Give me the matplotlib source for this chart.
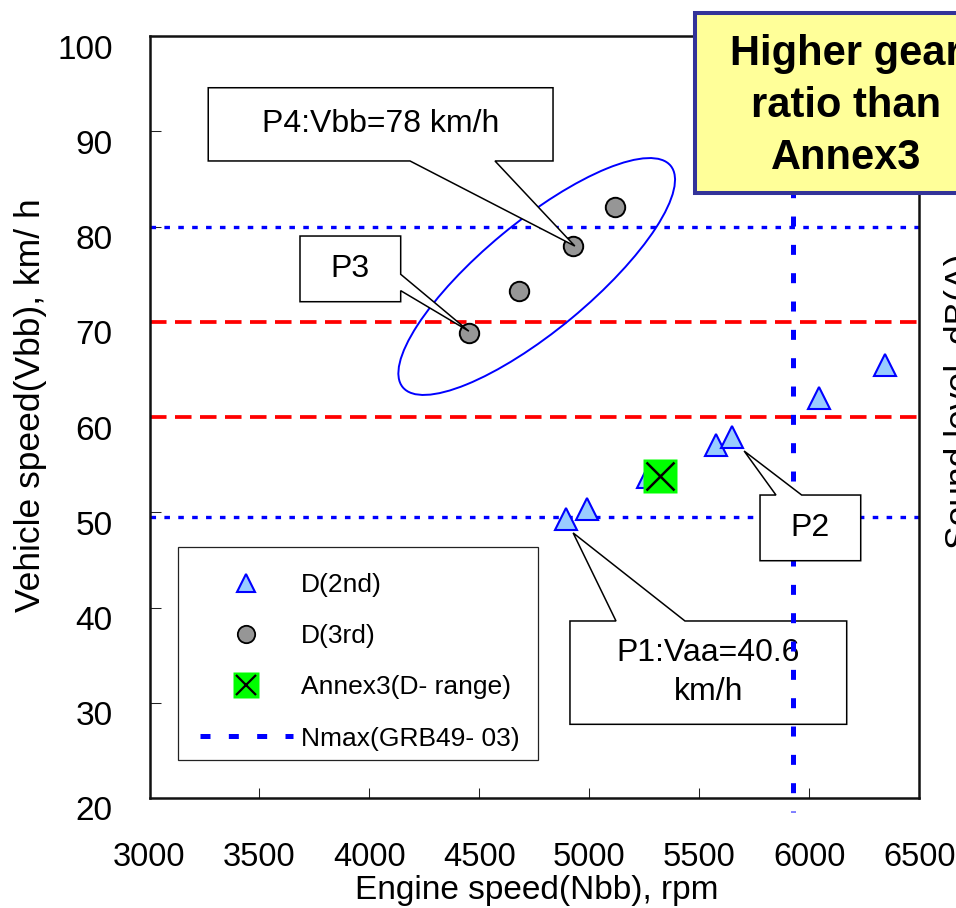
import matplotlib
matplotlib.use("Agg")
import matplotlib.pyplot as plt
from matplotlib.lines import Line2D
from matplotlib.patches import Polygon, Rectangle, Ellipse
from matplotlib.transforms import IdentityTransform, ScaledTranslation
from matplotlib.legend_handler import HandlerLine2D, HandlerTuple

plt.rcParams['font.family'] = ['Liberation Sans', 'DejaVu Sans']
plt.rcParams['lines.scale_dashes'] = False

# ---- data -------------------------------------------------------------
d2_rpm = [4892, 4988, 5267, 5577, 5649, 6044, 6344]
d2_speed = [49.3, 50.3, 53.7, 57.1, 57.9, 62.0, 65.5]

d3_rpm = [4452, 4681, 4927, 5116]
d3_speed = [68.8, 73.2, 78.0, 82.0]

annex3_rpm = [5323]
annex3_speed = [53.8]

nmax_rpm = 5927
red_limits = [60, 70]
blue_limits = [49.5, 80]

x_ticks = [3000, 3500, 4000, 4500, 5000, 5500, 6000, 6500]
y_ticks = [20, 30, 40, 50, 60, 70, 80, 90, 100]

legend_labels = ["D(2nd)", "D(3rd)", "Annex3(D- range)", "Nmax(GRB49- 03)"]

# ---- style ------------------------------------------------------------
W, H, DPI = 956, 908, 100
TRI_FILL, TRI_EDGE = '#99CCFF', '#0000FF'
CIRC_FILL = '#969696'
GREEN = '#00FF00'

fig = plt.figure(figsize=(W / DPI, H / DPI), dpi=DPI)
fig.patch.set_facecolor('white')
ax = fig.add_axes([149.5 / W, 110 / H, 769.8 / W, 762 / H])
ax.set_xlim(x_ticks[0], x_ticks[-1])
ax.set_ylim(y_ticks[0], y_ticks[-1])
ax.set_xticks(x_ticks)
ax.set_yticks(y_ticks)
ax.tick_params(axis='x', direction='in', length=7.2, width=0.75, pad=32,
               labelsize=23.5, top=False, colors='#222222', labelcolor='black')
ax.tick_params(axis='y', direction='in', length=8, width=0.75, pad=26.6,
               labelsize=24, right=False, colors='#222222', labelcolor='black')
for sp in ax.spines.values():
    sp.set_linewidth(1.8)
    sp.set_color('#111111')

# y tick labels sit a little below their ticks
drop = ScaledTranslation(0, -10.5 / DPI, fig.dpi_scale_trans)
for lab in ax.get_yticklabels():
    lab.set_transform(lab.get_transform() + drop)

# ---- reference lines --------------------------------------------------
for v in red_limits:
    ax.axhline(v, color='#FF0000', lw=2.7, dashes=(11.9, 6.1), zorder=2)
for v in blue_limits:
    ax.axhline(v, color='#0000FF', lw=2.4, dashes=(4.0, 6.0), zorder=2)
ax.axvline(nmax_rpm, ymin=-0.018, ymax=1.0, color='#0000FF', lw=3.6,
           linestyle=(6.5, (7.2, 13.2)), clip_on=False, zorder=3)

# ---- ellipse around 3rd-gear points -----------------------------------
ax.add_artist(Ellipse((536.7, H - 276.5), 347.6, 108.8, angle=39.6,
                      transform=IdentityTransform(), fill=False,
                      ec='#0000FF', lw=1.4, zorder=2.5, clip_on=False))

# ---- markers ----------------------------------------------------------
ax.plot(d2_rpm, d2_speed, ls='none', marker='^', ms=15.8, mfc=TRI_FILL,
        mec=TRI_EDGE, mew=1.5, zorder=4)
ax.plot(d3_rpm, d3_speed, ls='none', marker='o', ms=14, mfc=CIRC_FILL,
        mec='black', mew=1.4, zorder=4)
ax.plot(annex3_rpm, annex3_speed, ls='none', marker='s', ms=24.7,
        mfc=GREEN, mec='none', zorder=4.5)
ax.plot(annex3_rpm, annex3_speed, ls='none', marker='x', ms=20,
        mec='black', mew=1.8, zorder=4.6)


# ---- callouts ---------------------------------------------------------
def callout(label, xy, box, side, base, tip_off, z):
    to_disp = ax.transAxes.transform
    (x0, y0), (x1, y1) = to_disp([(box[0], box[1]), (box[2], box[3])])
    tx, ty = ax.transData.transform(xy)
    tx += tip_off[0]
    ty += tip_off[1]
    if side == 'bottom':
        b0 = to_disp((base[0], 0))[0]
        b1 = to_disp((base[1], 0))[0]
        pts = [(x0, y1), (x1, y1), (x1, y0), (b1, y0), (tx, ty), (b0, y0), (x0, y0)]
    elif side == 'top':
        b0 = to_disp((base[0], 0))[0]
        b1 = to_disp((base[1], 0))[0]
        pts = [(x0, y1), (b0, y1), (tx, ty), (b1, y1), (x1, y1), (x1, y0), (x0, y0)]
    else:  # right
        bt = to_disp((0, base[0]))[1]
        bb = to_disp((0, base[1]))[1]
        pts = [(x0, y1), (x1, y1), (x1, bt), (tx, ty), (x1, bb), (x1, y0), (x0, y0)]
    ax.add_artist(Polygon(pts, closed=True, transform=IdentityTransform(),
                          fc='white', ec='black', lw=1.1, joinstyle='miter',
                          zorder=z, clip_on=False))
    ax.text((box[0] + box[2]) / 2, (box[1] + box[3]) / 2, label,
            transform=ax.transAxes, ha='center', va='center', fontsize=23,
            linespacing=1.39, zorder=z + 0.01)


callout("P4:Vbb=78 km/h", (d3_rpm[2], d3_speed[2]),
        (0.0763, 0.8360, 0.5242, 0.9321), 'bottom', (0.3384, 0.4488), (1.5, -0.5), 5)
callout("P3", (d3_rpm[0], d3_speed[0]),
        (0.1955, 0.6513, 0.3263, 0.7375), 'right', (0.6873, 0.6658), (0, 2), 5)
callout("P2", (d2_rpm[4], d2_speed[4]),
        (0.7931, 0.3114, 0.9239, 0.3976), 'top', (0.8138, 0.8472), (12, -14), 5)
callout("P1:Vaa=40.6\nkm/h", (d2_rpm[0], d2_speed[0]),
        (0.5462, 0.0967, 0.9057, 0.2323), 'top', (0.6060, 0.6956), (7.5, -14), 2.8)

# ---- legend -----------------------------------------------------------
h_d2 = Line2D([], [], ls='none', marker='^', ms=12.5, mfc=TRI_FILL, mec=TRI_EDGE, mew=1.5)
h_d3 = Line2D([], [], ls='none', marker='o', ms=12.5, mfc=CIRC_FILL, mec='black', mew=1.3)
h_sq = Line2D([], [], ls='none', marker='s', ms=18.5, mfc=GREEN, mec='none')
h_x = Line2D([], [], ls='none', marker='x', ms=14, mec='black', mew=1.6)
h_nmax = Line2D([], [], color='#0000FF', lw=3.6, dashes=(7.2, 13.2))
leg = ax.legend([h_d2, h_d3, (h_sq, h_x), h_nmax], legend_labels,
                loc='upper left', bbox_to_anchor=(200 / W, 1 - 573 / H),
                bbox_transform=fig.transFigure, frameon=False, fontsize=19,
                borderpad=0, borderaxespad=0, handlelength=3.52,
                handletextpad=0.3, labelspacing=1.03, numpoints=1,
                handler_map={Line2D: HandlerLine2D(ypad=0.45),
                             tuple: HandlerTuple(ndivide=1, ypad=0.45)})
leg.set_zorder(6)
ax.add_artist(Rectangle((178, H - 760), 360, 213.3, transform=IdentityTransform(),
                        fill=False, ec='#222222', lw=0.9, zorder=5.9, clip_on=False))

# ---- axis titles ------------------------------------------------------
fig.text(537 / W, 9 / H, "Engine speed(Nbb), rpm", ha='center', va='baseline',
         fontsize=24)
fig.text(14 / W, 1 - 405 / H, "Vehicle speed(Vbb), km/ h", rotation=90,
         ha='left', va='center', fontsize=25.5)
fig.text(944 / W, 1 - 549 / H, "Sound level, dB(A)", rotation=90,
         ha='left', va='bottom', fontsize=25.5)

# ---- note box ---------------------------------------------------------
fig.add_artist(Rectangle((695.3, H - 193), 301.7, 180.5, transform=IdentityTransform(),
                         fc='#FFFF99', ec='#333399', lw=2.9, zorder=10))
fig.text(846, H - 106, "Higher gear\nratio than\nAnnex3", transform=IdentityTransform(),
         ha='center', va='center', multialignment='center', fontsize=30,
         fontweight='bold', linespacing=1.40, zorder=11)

fig.savefig("out.png", dpi=DPI)
